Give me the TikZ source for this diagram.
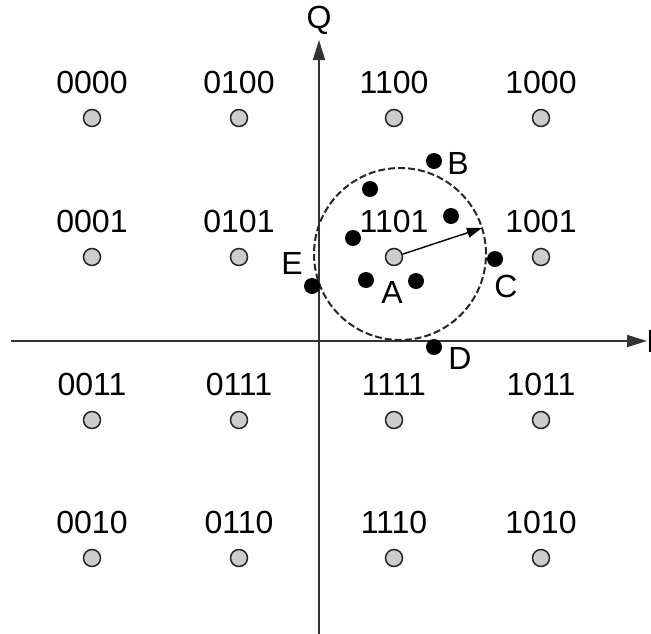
\documentclass[tikz,border=0pt]{standalone}
\usepackage{fontspec}
\setmainfont{Liberation Sans}
\usetikzlibrary{arrows.meta}
\begin{document}
\begin{tikzpicture}[x=1pt,y=-1pt,
  lbl/.style={font=\fontsize{32}{32}\selectfont, inner sep=0pt},
  sym/.style={circle, draw=black!85, fill=black!20, line width=1.5pt, minimum size=17pt, inner sep=0pt},
  rx/.style={circle, fill=black, minimum size=16pt, inner sep=0pt},
  axis/.style={line width=1.8pt, draw=black!80, -{Triangle[length=20pt,width=12pt]}},
  vec/.style={line width=1.4pt, -{Triangle[length=15pt,width=10pt]}}]
\useasboundingbox (0,0) rectangle (651,633);
\clip (0,0) rectangle (651,633);
% axes
\coordinate (xs) at (11,341);
\coordinate (xe) at (647,341);
\coordinate (ys) at (319,634);
\coordinate (ye) at (319,40);
\draw[axis] (xs) -- (xe);
\draw[axis] (ys) -- (ye);
\node[lbl] (Q) at (319,20) {Q};
\node[lbl, anchor=west] (I) at (646,341) {I};
% constellation
\foreach \c/\x in {0/92,1/239,2/394,3/541}{
  \foreach \r/\y in {0/118,1/257,2/420,3/558}{
    \node[sym] (p\c\r) at (\x,\y) {};
  }
}
\node[lbl] (l00) at (92,82) {0000};
\node[lbl] (l10) at (239,82) {0100};
\node[lbl] (l20) at (394,82) {1100};
\node[lbl] (l30) at (541,82) {1000};
\node[lbl] (l01) at (92,221) {0001};
\node[lbl] (l11) at (239,221) {0101};
\node[lbl] (l21) at (394,221) {1101};
\node[lbl] (l31) at (541,221) {1001};
\node[lbl] (l02) at (92,384) {0011};
\node[lbl] (l12) at (239,384) {0111};
\node[lbl] (l22) at (394,384) {1111};
\node[lbl] (l32) at (541,384) {1011};
\node[lbl] (l03) at (92,522) {0010};
\node[lbl] (l13) at (239,522) {0110};
\node[lbl] (l23) at (394,522) {1110};
\node[lbl] (l33) at (541,522) {1010};
% decision circle
\node[circle, draw=black!85, dash pattern=on 7pt off 3pt, line width=2pt, minimum size=172pt, inner sep=0pt] (dc) at (400,254) {};
\coordinate (ae) at (482,228);
\draw[vec] (p21) -- (ae);
% received points
\node[rx] (B) at (434,161) {};
\node[rx] (r1) at (370,189) {};
\node[rx] (r2) at (451,216) {};
\node[rx] (r3) at (353,238) {};
\node[rx] (C) at (495,259) {};
\node[rx] (E) at (312,286) {};
\node[rx] (r4) at (366,280) {};
\node[rx] (A) at (416,281) {};
\node[rx] (D) at (434,347) {};
\node[lbl] (lB) at (458,163) {B};
\node[lbl] (lA) at (392,292) {A};
\node[lbl] (lC) at (506,286) {C};
\node[lbl] (lD) at (460,358) {D};
\node[lbl] (lE) at (292,263) {E};
\end{tikzpicture}
\end{document}
